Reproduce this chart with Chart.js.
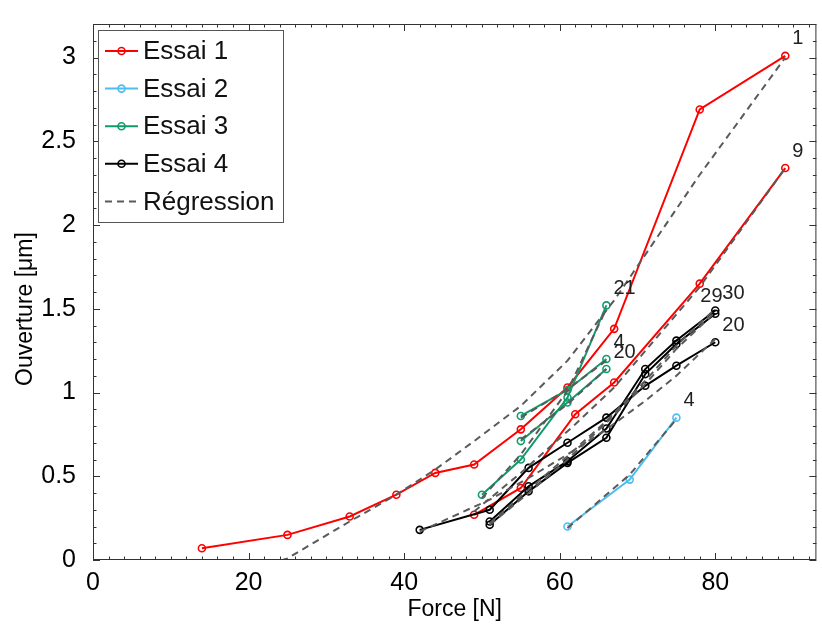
<!DOCTYPE html>
<html>
<head>
<meta charset="utf-8">
<script src="https://cdn.jsdelivr.net/npm/chart.js@4.4.1/dist/chart.umd.min.js"></script>
<style>
  html, body { margin: 0; padding: 0; background: #fff; }
</style>
</head>
<body>
<canvas id="myChart" width="822" height="629"></canvas>
<script>
// Essai 1 (rouge) : courbes n°1 et n°9
const force_e1_1 = [14, 25, 33, 39, 44, 49, 55, 61, 67, 78, 89];
const ouv_e1_1 = [0.07, 0.15, 0.26, 0.39, 0.52, 0.57, 0.78, 1.03, 1.38, 2.69, 3.01];
const reg_e1_1 = [-0.17, 0.01, 0.23, 0.39, 0.54, 0.71, 0.92, 1.19, 1.55, 2.30, 3.0];

const force_e1_9 = [49, 55, 62, 67, 78, 89];
const ouv_e1_9 = [0.27, 0.43, 0.87, 1.06, 1.65, 2.34];
const reg_e1_9 = [0.29, 0.52, 0.81, 1.03, 1.63, 2.34];

// Essai 2 (bleu) : courbe n°4
const force_e2_4 = [61, 69, 75];
const ouv_e2_4 = [0.20, 0.48, 0.85];
const reg_e2_4 = [0.19, 0.51, 0.84];

// Essai 3 (vert) : courbes n°21, n°4, n°20
const force_e3_21 = [50, 55, 61, 66];
const ouv_e3_21 = [0.39, 0.60, 0.97, 1.52];
const reg_e3_21 = [0.37, 0.63, 1.01, 1.50];

const force_e3_4 = [55, 61, 66];
const ouv_e3_4 = [0.86, 1.015, 1.20];
const reg_e3_4 = [0.85, 1.02, 1.19];

const force_e3_20 = [55, 61, 66];
const ouv_e3_20 = [0.71, 0.94, 1.14];
const reg_e3_20 = [0.72, 0.93, 1.14];

// Essai 4 (noir) : courbes n°20, n°29, n°30
const force_e4_20 = [42, 51, 56, 61, 66, 71, 75, 80];
const ouv_e4_20 = [0.18, 0.30, 0.55, 0.70, 0.85, 1.04, 1.16, 1.30];
const reg_e4_20 = [0.17, 0.36, 0.49, 0.63, 0.78, 0.95, 1.10, 1.32];

const force_e4_29 = [51, 56, 61, 66, 71, 75, 80];
const ouv_e4_29 = [0.21, 0.41, 0.58, 0.73, 1.11, 1.29, 1.47];
const reg_e4_29 = [0.21, 0.40, 0.60, 0.82, 1.05, 1.26, 1.48];

const force_e4_30 = [51, 56, 61, 66, 71, 75, 80];
const ouv_e4_30 = [0.23, 0.44, 0.59, 0.785, 1.14, 1.31, 1.49];
const reg_e4_30 = [0.22, 0.42, 0.62, 0.83, 1.07, 1.28, 1.50];

const xTicks = [0, 20, 40, 60, 80];
const yTicks = [0, 0.5, 1, 1.5, 2, 2.5, 3];

const legendLabels = ["Essai 1", "Essai 2", "Essai 3", "Essai 4", "Régression"];
const couleurs = ["#ff0000", "#4dbeee", "#119b6a", "#000000"];
const couleurReg = "#5a5a5a";
const police = "'Liberation Sans', Arial, sans-serif";

const courbes = [
  { essai: 0, num: "1", force: force_e1_1, ouv: ouv_e1_1, reg: reg_e1_1 },
  { essai: 0, num: "9", force: force_e1_9, ouv: ouv_e1_9, reg: reg_e1_9 },
  { essai: 1, num: "4", force: force_e2_4, ouv: ouv_e2_4, reg: reg_e2_4 },
  { essai: 2, num: "21", force: force_e3_21, ouv: ouv_e3_21, reg: reg_e3_21 },
  { essai: 2, num: "4", force: force_e3_4, ouv: ouv_e3_4, reg: reg_e3_4 },
  { essai: 2, num: "20", force: force_e3_20, ouv: ouv_e3_20, reg: reg_e3_20 },
  { essai: 3, num: "20", force: force_e4_20, ouv: ouv_e4_20, reg: reg_e4_20 },
  { essai: 3, num: "29", force: force_e4_29, ouv: ouv_e4_29, reg: reg_e4_29, dx: -15 },
  { essai: 3, num: "30", force: force_e4_30, ouv: ouv_e4_30, reg: reg_e4_30 },
];

function points(xs, ys) {
  return xs.map((x, i) => ({ x: x, y: ys[i] }));
}

const datasets = [];
courbes.forEach((c) => {
  datasets.push({
    label: legendLabels[c.essai],
    data: points(c.force, c.ouv),
    showLine: true,
    borderColor: couleurs[c.essai],
    borderWidth: 2,
    pointRadius: 3.5,
    pointBorderWidth: 1.6,
    pointBorderColor: couleurs[c.essai],
    pointBackgroundColor: "rgba(0,0,0,0)",
    order: 4 - c.essai,
    numero: c.num,
    dx: c.dx,
  });
  datasets.push({
    label: "Régression",
    data: points(c.force, c.reg),
    showLine: true,
    borderColor: couleurReg,
    borderWidth: 2,
    borderDash: [7, 5],
    pointRadius: 0,
    order: 0,
  });
});

// numéros des courbes à la fin de chaque série
const numerosPlugin = {
  id: "numeros",
  afterDatasetsDraw(chart) {
    const ctx = chart.ctx;
    ctx.save();
    ctx.font = "20px " + police;
    ctx.fillStyle = "#222";
    ctx.textAlign = "left";
    ctx.textBaseline = "middle";
    chart.data.datasets.forEach((ds, i) => {
      if (!ds.numero) return;
      const pts = chart.getDatasetMeta(i).data;
      const last = pts[pts.length - 1];
      ctx.fillText(ds.numero, last.x + (ds.dx ?? 7), last.y - 17);
    });
    ctx.restore();
  },
};

// cadre avec graduations intérieures, titre vertical + légende encadrée
const cadrePlugin = {
  id: "cadre",
  afterDraw(chart) {
    const { ctx, chartArea: a } = chart;
    const sx = chart.scales.x;
    const sy = chart.scales.y;
    ctx.save();
    ctx.strokeStyle = "#333";
    ctx.lineWidth = 1;
    ctx.strokeRect(a.left + 0.5, a.top + 0.5, a.width - 1, a.height - 1);
    ctx.beginPath();
    for (let i = 0; i * 2 <= sx.max; i++) {
      const px = Math.round(sx.getPixelForValue(i * 2)) + 0.5;
      const len = i % 10 === 0 ? 7 : 3.5;
      ctx.moveTo(px, a.bottom); ctx.lineTo(px, a.bottom - len);
      ctx.moveTo(px, a.top); ctx.lineTo(px, a.top + len);
    }
    for (let i = 0; i / 10 <= sy.max; i++) {
      const py = Math.round(sy.getPixelForValue(i / 10)) + 0.5;
      const len = i % 5 === 0 ? 7 : 3.5;
      ctx.moveTo(a.left, py); ctx.lineTo(a.left + len, py);
      ctx.moveTo(a.right, py); ctx.lineTo(a.right - len, py);
    }
    ctx.stroke();

    // titre de l'axe y
    ctx.save();
    ctx.translate(26, (a.top + a.bottom) / 2 + 17);
    ctx.rotate(-Math.PI / 2);
    ctx.font = "23px " + police;
    ctx.fillStyle = "#000";
    ctx.textAlign = "center";
    ctx.textBaseline = "middle";
    ctx.fillText("Ouverture [μm]", 0, 0);
    ctx.restore();

    // légende
    const lx = a.left + 5, ly = a.top + 6, lw = 185, lh = 192, pas = 37.6;
    ctx.fillStyle = "#fff";
    ctx.fillRect(lx, ly, lw, lh);
    ctx.strokeStyle = "#555";
    ctx.strokeRect(lx + 0.5, ly + 0.5, lw, lh);
    ctx.font = "26px " + police;
    ctx.textBaseline = "middle";
    legendLabels.forEach((txt, k) => {
      const cy = ly + 21 + k * pas;
      const reg = k === 4;
      ctx.strokeStyle = reg ? couleurReg : couleurs[k];
      ctx.lineWidth = 2;
      ctx.setLineDash(reg ? [7, 5] : []);
      ctx.beginPath();
      ctx.moveTo(lx + 7, cy); ctx.lineTo(lx + 40, cy);
      ctx.stroke();
      ctx.setLineDash([]);
      if (!reg) {
        ctx.lineWidth = 1.6;
        ctx.beginPath();
        ctx.arc(lx + 23.5, cy, 3.5, 0, Math.PI * 2);
        ctx.stroke();
      }
      ctx.fillStyle = "#111";
      ctx.fillText(txt, lx + 45, cy + 1);
    });
    ctx.restore();
  },
};

const ctx = document.getElementById("myChart").getContext("2d");
new Chart(ctx, {
  type: "scatter",
  data: { datasets: datasets },
  options: {
    responsive: false,
    animation: false,
    layout: { padding: { top: 4, right: 4, left: 0, bottom: 0 } },
    plugins: {
      legend: { display: false },
      tooltip: { enabled: false },
    },
    elements: { line: { tension: 0 } },
    scales: {
      x: {
        type: "linear",
        min: 0,
        max: 93,
        grid: { display: false },
        border: { display: false },
        afterBuildTicks: (s) => { s.ticks = xTicks.map((v) => ({ value: v })); },
        afterFit: (s) => { s.height = 69; },
        ticks: { color: "#000", padding: 0, maxRotation: 0, font: { family: police, size: 25 } },
        title: { display: true, text: "Force [N]", color: "#000", padding: { top: 0, bottom: 6 }, font: { family: police, size: 23 } },
      },
      y: {
        type: "linear",
        min: 0,
        max: 3.2,
        grid: { display: false },
        border: { display: false },
        afterBuildTicks: (s) => { s.ticks = yTicks.map((v) => ({ value: v })); },
        afterFit: (s) => { s.width = 93; },
        ticks: {
          color: "#000",
          padding: 9,
          font: { family: police, size: 25 },
          callback: (v) => String(v),
        },
        title: { display: false },
      },
    },
  },
  plugins: [numerosPlugin, cadrePlugin],
});
</script>
</body>
</html>
